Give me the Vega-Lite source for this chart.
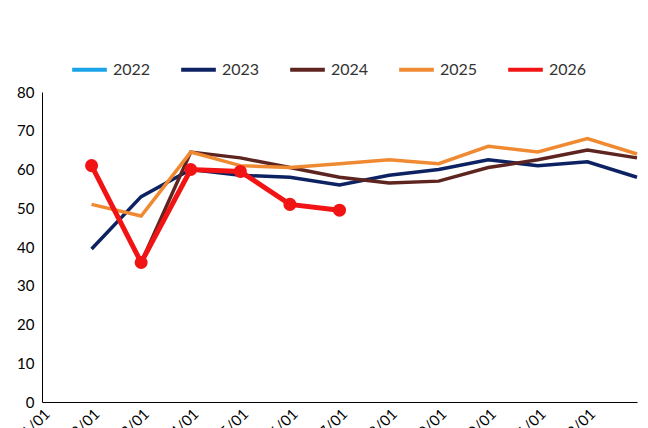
{
  "$schema": "https://vega.github.io/schema/vega-lite/v6.json",
  "width": 595,
  "height": 310,
  "padding": {"left": 12, "top": 50, "right": 8, "bottom": 5},
  "data": {"values": [
    {"s":"2023","m":2,"v":39.5},{"s":"2023","m":3,"v":53},{"s":"2023","m":4,"v":60},{"s":"2023","m":5,"v":58.5},{"s":"2023","m":6,"v":58},{"s":"2023","m":7,"v":56},{"s":"2023","m":8,"v":58.5},{"s":"2023","m":9,"v":60},{"s":"2023","m":10,"v":62.5},{"s":"2023","m":11,"v":61},{"s":"2023","m":12,"v":62},{"s":"2023","m":13,"v":58},
    {"s":"2024","m":3,"v":36},{"s":"2024","m":4,"v":64.5},{"s":"2024","m":5,"v":63},{"s":"2024","m":6,"v":60.5},{"s":"2024","m":7,"v":58},{"s":"2024","m":8,"v":56.5},{"s":"2024","m":9,"v":57},{"s":"2024","m":10,"v":60.5},{"s":"2024","m":11,"v":62.5},{"s":"2024","m":12,"v":65},{"s":"2024","m":13,"v":63},
    {"s":"2025","m":2,"v":51},{"s":"2025","m":3,"v":48},{"s":"2025","m":4,"v":64.5},{"s":"2025","m":5,"v":61},{"s":"2025","m":6,"v":60.5},{"s":"2025","m":7,"v":61.5},{"s":"2025","m":8,"v":62.5},{"s":"2025","m":9,"v":61.5},{"s":"2025","m":10,"v":66},{"s":"2025","m":11,"v":64.5},{"s":"2025","m":12,"v":68},{"s":"2025","m":13,"v":64},
    {"s":"2026","m":2,"v":61},{"s":"2026","m":3,"v":36},{"s":"2026","m":4,"v":60},{"s":"2026","m":5,"v":59.5},{"s":"2026","m":6,"v":51},{"s":"2026","m":7,"v":49.5}
  ]},
  "encoding": {
    "x": {"field":"m","type":"quantitative","scale":{"domain":[1,13],"nice":false},
      "axis":{"values":[1,2,3,4,5,6,7,8,9,10,11,12],"labelExpr":"(datum.value<10?'0':'')+datum.value+'/01'","labelAngle":-45,"labelAlign":"right","labelBaseline":"top","grid":false,"ticks":false,"title":null,"labelFontSize":15,"labelColor":"#000","domainColor":"#000","labelPadding":4}},
    "y": {"field":"v","type":"quantitative","scale":{"domain":[0,80]},
      "axis":{"values":[0,10,20,30,40,50,60,70,80],"grid":false,"ticks":false,"title":null,"labelFontSize":15,"labelColor":"#000","domainColor":"#000","labelPadding":8}},
    "color": {"field":"s","type":"nominal","scale":{"domain":["2022","2023","2024","2025","2026"],"range":["#1aa3e8","#0c2262","#5e2420","#f08a32","#f21414"]},
      "legend":{"orient":"none","legendX":28,"legendY":-42,"direction":"horizontal","title":null,"symbolType":"stroke","symbolStrokeWidth":4,"symbolSize":1200,"labelFontSize":16,"labelColor":"#333","columnPadding":22}}
  },
  "layer": [
    {"mark":{"type":"line","strokeWidth":3.5}},
    {"transform":[{"filter":"datum.s=='2026'"}],"mark":{"type":"line","strokeWidth":5}},
    {"transform":[{"filter":"datum.s=='2026'"}],"mark":{"type":"point","filled":true,"size":170,"opacity":1}}
  ],
  "config": {"font":"Lato","view":{"stroke":null}}
}
